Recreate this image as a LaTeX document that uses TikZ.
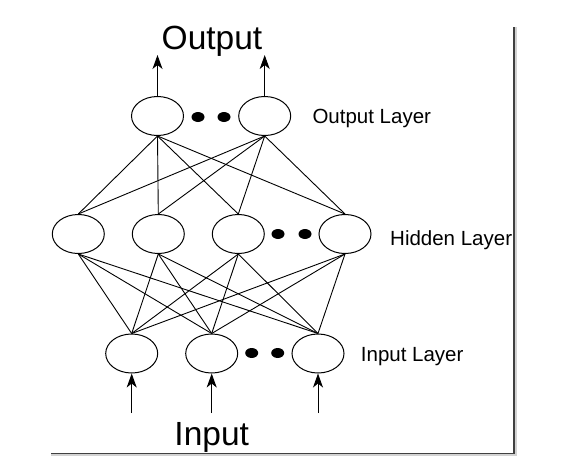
\documentclass[tikz,border=0pt]{standalone}
\usepackage{fontspec}
\setmainfont{Liberation Sans}
\usetikzlibrary{shapes.geometric,arrows.meta}
\begin{document}
\begin{tikzpicture}[x=1pt,y=-1pt,
  neuron/.style={draw,ellipse,line width=1pt,minimum width=52pt,minimum height=39pt,inner sep=0pt},
  dotnode/.style={fill,ellipse,minimum width=13pt,minimum height=10pt,inner sep=0pt},
  conn/.style={line width=0.9pt},
  arr/.style={line width=1pt,-{Stealth[length=14pt,width=10pt,inset=4pt]}},
  lbl/.style={font=\fontsize{20.5}{24}\selectfont,inner sep=0pt,anchor=base west},
  big/.style={font=\fontsize{33.5}{40}\selectfont,inner sep=0pt,anchor=base}]
\useasboundingbox (0,0) rectangle (576,469);
% frame shadow
\draw[line width=3pt,gray!35] (51,454.5) -- (515,454.5) -- (515,27);
\draw[line width=1.4pt,black!75] (51,453.5) -- (514,453.5) -- (514,27);
% output layer
\node[neuron] (o1) at (157.5,116) {};
\node[neuron] (o2) at (264.7,116) {};
\node[dotnode] (od1) at (198,117) {};
\node[dotnode] (od2) at (224,117) {};
% hidden layer
\node[neuron] (h1) at (78.3,234) {};
\node[neuron] (h2) at (158.3,234) {};
\node[neuron] (h3) at (238.3,234) {};
\node[neuron] (h4) at (345,234) {};
\node[dotnode] (hd1) at (278,234) {};
\node[dotnode] (hd2) at (305,234) {};
% input layer
\node[neuron] (i1) at (131.7,353.5) {};
\node[neuron] (i2) at (211.7,353.5) {};
\node[neuron] (i3) at (318,353.5) {};
\node[dotnode] (id1) at (251.7,353) {};
\node[dotnode] (id2) at (277.7,353) {};
% connections
\foreach \o in {o1,o2}
  \foreach \h in {h1,h2,h3,h4}
    \draw[conn] (\o.south) -- (\h.north);
\foreach \h in {h1,h2,h3,h4}
  \foreach \i in {i1,i2,i3}
    \draw[conn] (\h.south) -- (\i.north);
% arrows
\coordinate (oa1) at (157.5,55);
\coordinate (oa2) at (264.7,55);
\draw[arr] (o1.north) -- (oa1);
\draw[arr] (o2.north) -- (oa2);
\coordinate (ia1) at (131.7,413);
\coordinate (ia2) at (211.7,413);
\coordinate (ia3) at (318,413);
\draw[arr] (ia1) -- (i1.south);
\draw[arr] (ia2) -- (i2.south);
\draw[arr] (ia3) -- (i3.south);
% labels
\node[big] (tout) at (212,49) {Output};
\node[big] (tin) at (211.7,445) {Input};
\node[lbl] (lo) at (312.3,123.8) {Output Layer};
\node[lbl] (lh) at (390,245) {Hidden Layer};
\node[lbl] (li) at (360.7,361.5) {Input Layer};
\end{tikzpicture}
\end{document}
